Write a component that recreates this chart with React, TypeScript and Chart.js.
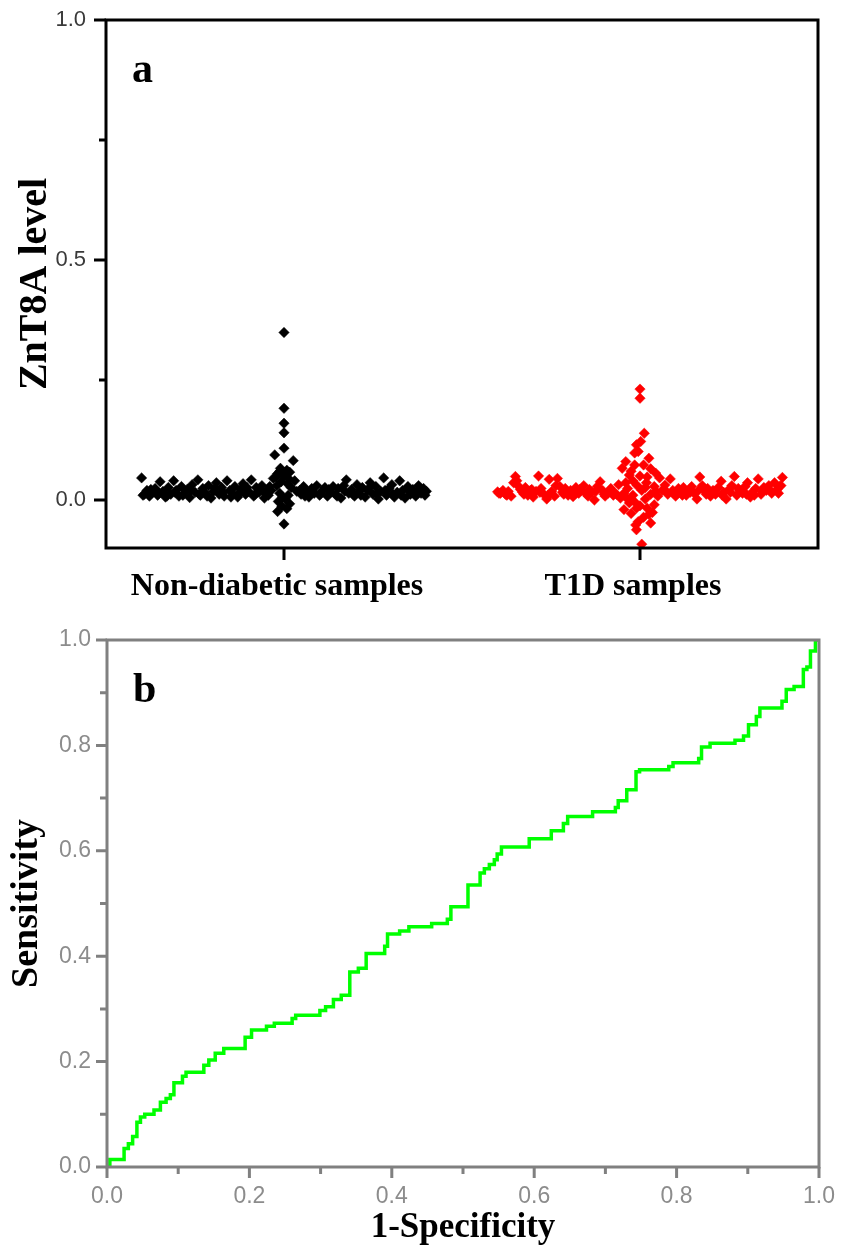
import React, { useEffect, useRef } from "react";
import { Chart, registerables } from "chart.js";

Chart.register(...registerables);

// ---------- Panel a: ZnT8A level scatter ----------
const categoryLabels = ["Non-diabetic samples", "T1D samples"];
const categoryPositions = [1, 2];
const levelTicks = [0, 0.5, 1.0];
const levelMinorTicks = [0.25, 0.75];

const nonDiabeticOffsets = [
  -0.4, -0.392, -0.385, -0.378, -0.37, -0.362, -0.355, -0.348, -0.34, -0.333,
  -0.325, -0.318, -0.31, -0.303, -0.295, -0.288, -0.28, -0.272, -0.265, -0.258,
  -0.25, -0.242, -0.235, -0.228, -0.22, -0.212, -0.205, -0.198, -0.19, -0.182,
  -0.175, -0.168, -0.16, -0.152, -0.145, -0.138, -0.13, -0.122, -0.115, -0.108,
  -0.1, -0.092, -0.085, -0.078, -0.07, -0.062, -0.055, -0.048,
  -0.396, -0.374, -0.351, -0.329, -0.306, -0.284, -0.261, -0.238, -0.216, -0.194,
  -0.171, -0.149, -0.126, -0.104, -0.081, -0.059, -0.044, -0.04,
  0.0, 0.0, 0.0, 0.0, 0.0, -0.026, 0.026, -0.01, 0.008, -0.018,
  0.016, 0.0, -0.03, 0.03, -0.008, 0.01, -0.02, 0.02, -0.036, 0.036,
  -0.012, 0.012, -0.004, 0.004, -0.016, 0.016, -0.006, 0.008, -0.018, 0.0,
  -0.022, 0.014, -0.012, 0.004,
  0.048, 0.055, 0.062, 0.07, 0.078, 0.085, 0.092, 0.1, 0.108, 0.115,
  0.122, 0.13, 0.138, 0.145, 0.152, 0.16, 0.168, 0.175, 0.182, 0.19,
  0.198, 0.205, 0.212, 0.22, 0.228, 0.235, 0.242, 0.25, 0.258, 0.265,
  0.272, 0.28, 0.288, 0.295, 0.303, 0.31, 0.318, 0.325, 0.333, 0.34,
  0.348, 0.355, 0.362, 0.37, 0.378, 0.385, 0.392, 0.4,
  0.044, 0.059, 0.081, 0.104, 0.126, 0.149, 0.171, 0.194, 0.216, 0.238,
  0.261, 0.284, 0.306, 0.329, 0.351, 0.374, 0.396,
];
const nonDiabeticLevels = [
  0.046, 0.012, 0.02, 0.008, 0.016, 0.024, 0.01, 0.038, 0.018, 0.006,
  0.026, 0.012, 0.04, 0.02, 0.008, 0.028, 0.014, 0.022, 0.005, 0.032,
  0.016, 0.042, 0.01, 0.024, 0.014, 0.03, 0.004, 0.018, 0.036, 0.012,
  0.026, 0.008, 0.04, 0.02, 0.014, 0.028, 0.006, 0.022, 0.034, 0.012,
  0.018, 0.042, 0.008, 0.026, 0.016, 0.03, 0.004, 0.02,
  0.01, 0.022, 0.014, 0.008, 0.016, 0.01, 0.02, 0.012, 0.008, 0.024,
  0.016, 0.006, 0.014, 0.026, 0.012, 0.018, 0.01, 0.028,
  0.349, 0.191, 0.16, 0.14, 0.108, 0.094, 0.082, 0.066, 0.062, 0.055,
  0.058, 0.05, 0.045, 0.04, 0.038, 0.034, 0.03, 0.026, 0.02, 0.018,
  0.014, 0.01, 0.006, 0.002, -0.003, -0.008, -0.013, -0.018, -0.024, -0.05,
  0.048, 0.044, 0.06, 0.058,
  0.012, 0.028, 0.018, 0.006, 0.024, 0.014, 0.03, 0.01, 0.02, 0.026,
  0.008, 0.016, 0.028, 0.012, 0.024, 0.004, 0.03, 0.042, 0.014, 0.022,
  0.008, 0.032, 0.018, 0.026, 0.006, 0.02, 0.036, 0.012, 0.028, 0.002,
  0.018, 0.046, 0.01, 0.024, 0.032, 0.006, 0.016, 0.04, 0.02, 0.004,
  0.028, 0.012, 0.022, 0.008, 0.03, 0.014, 0.024, 0.018,
  0.02, 0.008, 0.018, 0.014, 0.022, 0.008, 0.018, 0.012, 0.01, 0.024,
  0.014, 0.02, 0.012, 0.01, 0.018, 0.016, 0.01,
];

const t1dOffsets = [
  -0.4, -0.392, -0.385, -0.378, -0.37, -0.362, -0.355, -0.35, -0.343, -0.336,
  -0.33, -0.322, -0.315, -0.308, -0.3, -0.292, -0.285, -0.278, -0.27, -0.262,
  -0.255, -0.248, -0.24, -0.232, -0.225, -0.218, -0.21, -0.202, -0.195, -0.188,
  -0.18, -0.172, -0.165, -0.158, -0.15, -0.142, -0.135, -0.128, -0.12, -0.112,
  -0.105, -0.098, -0.09, -0.082, -0.075,
  -0.396, -0.374, -0.346, -0.326, -0.304, -0.281, -0.258, -0.236, -0.214, -0.191,
  -0.169, -0.146, -0.124, -0.101, -0.079, -0.066,
  0.0, 0.0, 0.012, 0.002, -0.01, -0.005, -0.015, 0.025, -0.04, -0.015,
  0.01, -0.05, 0.03, 0.044, -0.03, 0.0, 0.055, -0.02, 0.018, -0.06,
  -0.008, 0.04, -0.035, 0.062, 0.005, -0.045, 0.03, -0.02, 0.05, -0.055,
  0.015, -0.03, 0.04, 0.0, -0.01, 0.02, -0.045, 0.035, -0.025, 0.01,
  -0.005, 0.03, -0.012, -0.01, 0.005,
  -0.025, 0.02, -0.04, 0.045, -0.015, 0.025, -0.035, 0.015,
  0.07, 0.078, 0.085, 0.092, 0.1, 0.108, 0.115, 0.122, 0.13, 0.138,
  0.145, 0.152, 0.16, 0.168, 0.175, 0.182, 0.19, 0.198, 0.205, 0.212,
  0.22, 0.228, 0.235, 0.242, 0.25, 0.258, 0.265, 0.272, 0.28, 0.288,
  0.295, 0.302, 0.31, 0.318, 0.325, 0.332, 0.34, 0.348, 0.355, 0.362,
  0.37, 0.378, 0.385, 0.392, 0.4,
  0.074, 0.096, 0.119, 0.141, 0.164, 0.186, 0.209, 0.231, 0.254, 0.276,
  0.299, 0.321, 0.344, 0.366, 0.389, 0.396,
];
const t1dLevels = [
  0.017, 0.014, 0.02, 0.012, 0.018, 0.008, 0.036, 0.049, 0.03, 0.022,
  0.016, 0.026, 0.01, 0.02, 0.006, 0.018, 0.05, 0.024, 0.012, 0.002,
  0.043, 0.018, 0.008, 0.045, 0.028, 0.016, 0.024, 0.01, 0.02, 0.007,
  0.026, 0.014, 0.02, 0.03, 0.012, 0.022, 0.016, 0.0, 0.028, 0.038,
  0.02, 0.008, 0.014, 0.024, 0.01,
  0.014, 0.01, 0.04, 0.012, 0.022, 0.016, 0.01, 0.03, 0.012, 0.016,
  0.022, 0.008, 0.018, 0.012, 0.02, 0.012,
  0.231, 0.212, 0.139, 0.122, 0.115, 0.101, 0.098, 0.087, 0.08, 0.073,
  0.073, 0.066, 0.065, 0.056, 0.052, 0.05, 0.046, 0.04, 0.036, 0.032,
  0.03, 0.028, 0.024, 0.02, 0.02, 0.014, 0.012, 0.01, 0.008, 0.004,
  0.002, -0.006, -0.01, -0.012, -0.017, -0.017, -0.02, -0.026, -0.028, -0.036,
  -0.045, -0.048, -0.052, -0.062, -0.092,
  0.06, 0.048, 0.036, 0.018, -0.004, -0.03, 0.002, 0.026,
  0.031, 0.012, 0.044, 0.02, 0.008, 0.024, 0.016, 0.026, 0.01, 0.02,
  0.028, 0.014, 0.002, 0.048, 0.03, 0.018, 0.024, 0.008, 0.02, 0.012,
  0.026, 0.039, 0.016, 0.002, 0.022, 0.03, 0.049, 0.01, 0.02, 0.014,
  0.028, 0.036, 0.006, 0.018, 0.024, 0.044, 0.012, 0.026, 0.02, 0.03,
  0.014, 0.036, 0.022, 0.028, 0.047,
  0.018, 0.014, 0.01, 0.016, 0.02, 0.012, 0.018, 0.01, 0.016, 0.024,
  0.012, 0.01, 0.018, 0.02, 0.014, 0.03,
];

// ---------- Panel b: ROC curve ----------
const rocFpr = [
  0, 0.004, 0.024, 0.03, 0.036, 0.042, 0.047, 0.053, 0.066, 0.075,
  0.083, 0.089, 0.094, 0.106, 0.111, 0.136, 0.143, 0.152, 0.164, 0.194,
  0.203, 0.224, 0.235, 0.26, 0.265, 0.299, 0.307, 0.318, 0.329, 0.341,
  0.353, 0.364, 0.39, 0.394, 0.411, 0.424, 0.456, 0.478, 0.483, 0.507,
  0.524, 0.53, 0.537, 0.544, 0.548, 0.554, 0.593, 0.624, 0.641, 0.647,
  0.682, 0.714, 0.718, 0.73, 0.743, 0.748, 0.789, 0.795, 0.831, 0.835,
  0.847, 0.882, 0.894, 0.901, 0.912, 0.917, 0.948, 0.954, 0.965, 0.978,
  0.983, 0.988, 0.995, 1.0,
];
const rocTpr = [
  0, 0.014, 0.035, 0.044, 0.058, 0.085, 0.095, 0.1, 0.108, 0.123,
  0.13, 0.137, 0.16, 0.172, 0.18, 0.193, 0.203, 0.216, 0.225, 0.246,
  0.26, 0.267, 0.273, 0.282, 0.288, 0.297, 0.304, 0.318, 0.326, 0.37,
  0.377, 0.405, 0.419, 0.442, 0.448, 0.456, 0.462, 0.47, 0.494, 0.535,
  0.558, 0.566, 0.574, 0.583, 0.594, 0.607, 0.623, 0.638, 0.652, 0.665,
  0.674, 0.682, 0.695, 0.716, 0.75, 0.754, 0.76, 0.767, 0.775, 0.797,
  0.804, 0.81, 0.818, 0.839, 0.855, 0.871, 0.884, 0.906, 0.912, 0.944,
  0.949, 0.979, 1.0, 1.0,
];
const rocTicks = [0, 0.2, 0.4, 0.6, 0.8, 1.0];
const rocMinorTicks = [0.1, 0.3, 0.5, 0.7, 0.9];

const SERIF = '"Liberation Serif", "Times New Roman", serif';
const SANS = '"Liberation Sans", Arial, sans-serif';

type FrameOpts = {
  color: string;
  lineWidth: number;
  xMajor: number[];
  xMinor: number[];
  yMajor: number[];
  yMinor: number[];
  majorLen: number;
  minorLen: number;
  letter: string;
};

function makeFramePlugin(o: FrameOpts) {
  return {
    id: "frameTicks",
    afterDraw(chart: any) {
      const { ctx, chartArea } = chart;
      const { left, right, top, bottom } = chartArea;
      const xs = chart.scales.x;
      const ys = chart.scales.y;
      ctx.save();
      ctx.strokeStyle = o.color;
      ctx.lineWidth = o.lineWidth;
      ctx.lineCap = "butt";
      ctx.lineJoin = "miter";
      ctx.strokeRect(left, top, right - left, bottom - top);
      ctx.beginPath();
      const tickX = (vals: number[], len: number) => {
        for (const v of vals) {
          const px = xs.getPixelForValue(v);
          ctx.moveTo(px, bottom);
          ctx.lineTo(px, bottom + len);
        }
      };
      const tickY = (vals: number[], len: number) => {
        for (const v of vals) {
          const py = ys.getPixelForValue(v);
          ctx.moveTo(left, py);
          ctx.lineTo(left - len, py);
        }
      };
      tickX(o.xMajor, o.majorLen);
      tickX(o.xMinor, o.minorLen);
      tickY(o.yMajor, o.majorLen);
      tickY(o.yMinor, o.minorLen);
      ctx.stroke();
      ctx.fillStyle = "#000";
      ctx.font = `bold 42px ${SERIF}`;
      ctx.textBaseline = "alphabetic";
      ctx.textAlign = "left";
      ctx.fillText(o.letter, left + 26, top + 62);
      ctx.restore();
    },
  };
}

// invisible tick marks used only to offset the labels from the axis
const hiddenGrid = (len: number) => ({
  display: true,
  drawOnChartArea: false,
  drawTicks: true,
  tickLength: len,
  tickColor: "rgba(0,0,0,0)",
  color: "rgba(0,0,0,0)",
});

function ScatterPanel() {
  const ref = useRef<HTMLCanvasElement | null>(null);
  useEffect(() => {
    if (!ref.current) return;
    const nd = nonDiabeticOffsets.map((o, i) => ({ x: categoryPositions[0] + o, y: nonDiabeticLevels[i] }));
    const t1 = t1dOffsets.map((o, i) => ({ x: categoryPositions[1] + o, y: t1dLevels[i] }));
    const chart = new Chart(ref.current, {
      type: "scatter",
      data: {
        datasets: [
          {
            label: categoryLabels[0],
            data: nd,
            pointStyle: "rectRot",
            pointRadius: 5.2,
            backgroundColor: "#000000",
            borderColor: "#000000",
            borderWidth: 0.5,
          },
          {
            label: categoryLabels[1],
            data: t1,
            pointStyle: "rectRot",
            pointRadius: 5.2,
            backgroundColor: "#ff0000",
            borderColor: "#ff0000",
            borderWidth: 0.5,
          },
        ],
      },
      options: {
        responsive: false,
        animation: false,
        events: [],
        layout: { padding: { left: 0, right: 23, top: 20, bottom: 0 } },
        plugins: { legend: { display: false }, tooltip: { enabled: false } },
        scales: {
          x: {
            type: "linear",
            min: 0.5,
            max: 2.5,
            grid: hiddenGrid(20),
            border: { display: false },
            afterBuildTicks: (s: any) => {
              s.ticks = categoryPositions.map((v) => ({ value: v }));
            },
            afterFit: (s: any) => {
              s.height = 67;
            },
            ticks: {
              autoSkip: false,
              maxRotation: 0,
              padding: 0,
              labelOffset: -7,
              color: "#000",
              font: { family: SERIF, size: 32, weight: "bold" },
              callback: (v: any) => categoryLabels[categoryPositions.indexOf(Number(v))] ?? "",
            },
          },
          y: {
            type: "linear",
            min: -0.1,
            max: 1.0,
            grid: hiddenGrid(20),
            border: { display: false },
            afterBuildTicks: (s: any) => {
              s.ticks = levelTicks.map((v) => ({ value: v }));
            },
            afterFit: (s: any) => {
              s.width = 106;
            },
            ticks: {
              padding: 0,
              color: "#3a3a3a",
              font: { family: SANS, size: 22 },
              callback: (v: any) => Number(v).toFixed(1),
            },
            title: {
              display: true,
              text: "ZnT8A level",
              color: "#000",
              font: { family: SERIF, size: 40, weight: "bold" },
              padding: { top: 12, bottom: 0 },
            },
          },
        },
      },
      plugins: [
        makeFramePlugin({
          color: "#000000",
          lineWidth: 3,
          xMajor: categoryPositions,
          xMinor: [],
          yMajor: levelTicks,
          yMinor: levelMinorTicks,
          majorLen: 12,
          minorLen: 7,
          letter: "a",
        }),
      ],
    } as any);
    return () => chart.destroy();
  }, []);
  return <canvas ref={ref} width={841} height={615} style={{ display: "block" }} />;
}

function RocPanel() {
  const ref = useRef<HTMLCanvasElement | null>(null);
  useEffect(() => {
    if (!ref.current) return;
    const pts = rocFpr.map((x, i) => ({ x, y: rocTpr[i] }));
    const chart = new Chart(ref.current, {
      type: "line",
      data: {
        datasets: [
          {
            label: "ROC",
            data: pts,
            stepped: "before",
            borderColor: "#00ff00",
            borderWidth: 3.5,
            pointRadius: 0,
            fill: false,
          },
        ],
      },
      options: {
        responsive: false,
        animation: false,
        events: [],
        layout: { padding: { left: 0, right: 22, top: 25, bottom: 0 } },
        plugins: { legend: { display: false }, tooltip: { enabled: false } },
        scales: {
          x: {
            type: "linear",
            min: 0,
            max: 1,
            grid: hiddenGrid(16),
            border: { display: false },
            afterBuildTicks: (s: any) => {
              s.ticks = rocTicks.map((v) => ({ value: v }));
            },
            afterFit: (s: any) => {
              s.height = 82;
            },
            ticks: {
              autoSkip: false,
              maxRotation: 0,
              padding: 0,
              color: "#8c8c8c",
              font: { family: SANS, size: 23 },
              callback: (v: any) => Number(v).toFixed(1),
            },
            title: {
              display: true,
              text: "1-Specificity",
              color: "#000",
              font: { family: SERIF, size: 35, weight: "bold" },
              padding: { top: 0, bottom: 0 },
            },
          },
          y: {
            type: "linear",
            min: 0,
            max: 1,
            grid: hiddenGrid(16),
            border: { display: false },
            afterBuildTicks: (s: any) => {
              s.ticks = rocTicks.map((v) => ({ value: v }));
            },
            afterFit: (s: any) => {
              s.width = 107;
            },
            ticks: {
              padding: 0,
              color: "#8c8c8c",
              font: { family: SANS, size: 23 },
              callback: (v: any) => Number(v).toFixed(1),
            },
            title: {
              display: true,
              text: "Sensitivity",
              color: "#000",
              font: { family: SERIF, size: 38, weight: "bold" },
              padding: { top: 4, bottom: 0 },
            },
          },
        },
      },
      plugins: [
        makeFramePlugin({
          color: "#808080",
          lineWidth: 3,
          xMajor: rocTicks,
          xMinor: rocMinorTicks,
          yMajor: rocTicks,
          yMinor: rocMinorTicks,
          majorLen: 11,
          minorLen: 7,
          letter: "b",
        }),
      ],
    } as any);
    return () => chart.destroy();
  }, []);
  return <canvas ref={ref} width={841} height={634} style={{ display: "block" }} />;
}

export default function App() {
  return (
    <div style={{ position: "absolute", left: 0, top: 0, width: 841, height: 1249, background: "#fff" }}>
      <ScatterPanel />
      <RocPanel />
    </div>
  );
}
